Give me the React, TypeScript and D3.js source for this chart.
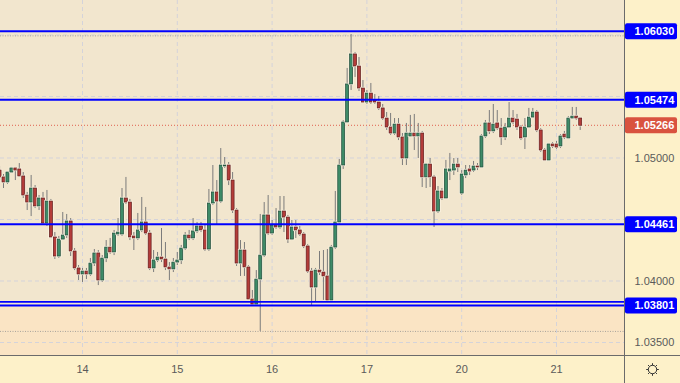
import React from 'react';
import * as d3 from 'd3';

// ---- Data (EURUSD-like hourly candles) ----
const opens = [1.04902,1.04846,1.04805,1.04886,1.04919,1.04911,1.04854,1.04699,1.04642,1.04756,1.04610,1.04675,1.04472,1.04650,1.04358,1.04203,1.04341,1.04374,1.04488,1.04244,1.04106,1.04057,1.04081,1.04057,1.04146,1.04228,1.04008,1.04187,1.04276,1.04236,1.04382,1.04382,1.04675,1.04642,1.04366,1.04350,1.04415,1.04480,1.04390,1.04106,1.04171,1.04195,1.04179,1.04114,1.04098,1.04154,1.04171,1.04268,1.04374,1.04350,1.04407,1.04447,1.04415,1.04260,1.04634,1.04724,1.04650,1.04935,1.04943,1.04821,1.04577,1.04146,1.04252,1.04114,1.03854,1.03813,1.04016,1.04211,1.04537,1.04390,1.04455,1.04439,1.04569,1.04520,1.04341,1.04439,1.04415,1.04382,1.04285,1.04081,1.03951,1.04089,1.04073,1.04041,1.03846,1.04276,1.04480,1.04943,1.05293,1.05602,1.05846,1.05748,1.05569,1.05455,1.05528,1.05472,1.05455,1.05407,1.05325,1.05252,1.05203,1.05276,1.05171,1.05000,1.05179,1.05203,1.05179,1.05203,1.04846,1.04951,1.04846,1.04569,1.04732,1.04675,1.04894,1.04902,1.04951,1.04715,1.04862,1.04911,1.04902,1.04935,1.04927,1.05179,1.05285,1.05220,1.05285,1.05244,1.05171,1.05252,1.05325,1.05317,1.05252,1.05171,1.05252,1.05333,1.05374,1.05228,1.05065,1.04984,1.05114,1.05114,1.05098,1.05195,1.05163,1.05325,1.05341,1.05325];
const highs = [1.04935,1.04870,1.04894,1.04927,1.04927,1.04959,1.04886,1.04724,1.04862,1.04780,1.04699,1.04724,1.04740,1.04667,1.04398,1.04366,1.04561,1.04545,1.04512,1.04268,1.04130,1.04106,1.04106,1.04187,1.04260,1.04252,1.04211,1.04333,1.04350,1.04415,1.04512,1.04756,1.04846,1.04667,1.04398,1.04553,1.04683,1.04602,1.04415,1.04252,1.04236,1.04431,1.04317,1.04154,1.04187,1.04236,1.04293,1.04398,1.04415,1.04512,1.04480,1.04480,1.04463,1.04748,1.04943,1.04821,1.05081,1.05008,1.04967,1.04886,1.04593,1.04333,1.04317,1.04130,1.03927,1.04089,1.04545,1.04642,1.04699,1.04496,1.04593,1.04691,1.04691,1.04537,1.04496,1.04496,1.04447,1.04398,1.04301,1.04106,1.04106,1.04244,1.04252,1.04260,1.04293,1.04732,1.04992,1.05309,1.05732,1.06008,1.05862,1.05821,1.05634,1.05553,1.05610,1.05520,1.05504,1.05439,1.05374,1.05366,1.05325,1.05325,1.05203,1.05285,1.05350,1.05358,1.05285,1.05220,1.04959,1.05000,1.04862,1.04772,1.04756,1.04984,1.05041,1.05000,1.05000,1.04902,1.04943,1.04943,1.04976,1.04959,1.05195,1.05309,1.05390,1.05439,1.05390,1.05325,1.05285,1.05455,1.05390,1.05358,1.05268,1.05325,1.05407,1.05407,1.05390,1.05244,1.05081,1.05122,1.05130,1.05138,1.05195,1.05220,1.05341,1.05415,1.05415,1.05333];
const lows = [1.04821,1.04756,1.04789,1.04878,1.04821,1.04846,1.04675,1.04577,1.04528,1.04593,1.04577,1.04463,1.04447,1.04350,1.04179,1.04187,1.04333,1.04350,1.04203,1.04089,1.04008,1.03992,1.04016,1.04041,1.04122,1.03967,1.03992,1.04154,1.04220,1.04211,1.04366,1.04366,1.04626,1.04333,1.04252,1.04333,1.04398,1.04374,1.04089,1.04073,1.04154,1.04154,1.04089,1.04008,1.04073,1.04130,1.04138,1.04252,1.04333,1.04333,1.04390,1.04398,1.04244,1.04244,1.04618,1.04463,1.04634,1.04919,1.04780,1.04553,1.04122,1.04041,1.04041,1.03846,1.03805,1.03797,1.03594,1.04195,1.04374,1.04374,1.04423,1.04423,1.04398,1.04309,1.04333,1.04350,1.04366,1.04268,1.04065,1.03805,1.03837,1.04049,1.03846,1.03829,1.03829,1.04260,1.04463,1.04911,1.05285,1.05553,1.05659,1.05545,1.05447,1.05439,1.05439,1.05439,1.05390,1.05309,1.05228,1.05187,1.05187,1.05146,1.04943,1.04943,1.05171,1.05065,1.05000,1.04764,1.04756,1.04764,1.04439,1.04553,1.04659,1.04667,1.04821,1.04862,1.04886,1.04699,1.04837,1.04862,1.04886,1.04902,1.04919,1.05163,1.05195,1.05203,1.05228,1.05106,1.05146,1.05244,1.05276,1.05228,1.05146,1.05073,1.05244,1.05325,1.05211,1.05049,1.04976,1.04976,1.05081,1.05073,1.05081,1.05154,1.05154,1.05317,1.05309,1.05228];
const closes = [1.04846,1.04805,1.04886,1.04919,1.04902,1.04854,1.04699,1.04642,1.04756,1.04610,1.04675,1.04472,1.04650,1.04358,1.04203,1.04341,1.04374,1.04488,1.04244,1.04106,1.04057,1.04081,1.04057,1.04146,1.04228,1.04008,1.04187,1.04276,1.04236,1.04390,1.04398,1.04675,1.04642,1.04358,1.04350,1.04415,1.04480,1.04390,1.04106,1.04171,1.04195,1.04179,1.04114,1.04098,1.04154,1.04171,1.04268,1.04374,1.04350,1.04407,1.04447,1.04415,1.04260,1.04634,1.04724,1.04650,1.04943,1.04943,1.04821,1.04577,1.04146,1.04252,1.04114,1.03854,1.03813,1.04016,1.04211,1.04537,1.04390,1.04455,1.04439,1.04569,1.04520,1.04341,1.04439,1.04415,1.04382,1.04285,1.04081,1.03951,1.04089,1.04073,1.04041,1.03846,1.04276,1.04480,1.04943,1.05293,1.05602,1.05846,1.05748,1.05569,1.05455,1.05528,1.05455,1.05455,1.05407,1.05325,1.05252,1.05203,1.05276,1.05171,1.05000,1.05203,1.05203,1.05179,1.05203,1.04846,1.04951,1.04846,1.04569,1.04732,1.04675,1.04911,1.04911,1.04951,1.04927,1.04870,1.04902,1.04894,1.04935,1.04927,1.05179,1.05285,1.05220,1.05276,1.05244,1.05171,1.05252,1.05325,1.05293,1.05252,1.05163,1.05252,1.05333,1.05374,1.05228,1.05065,1.04984,1.05114,1.05098,1.05089,1.05179,1.05171,1.05325,1.05341,1.05325,1.05266];

const dayLabels = ['14', '15', '16', '17', '20', '21'];
const dayStartIndex = [21, 45, 69, 93, 117, 141];
const priceTicks = [1.035, 1.04, 1.045, 1.05, 1.055, 1.06];
const levelLines = [1.0603, 1.05474, 1.04461, 1.03801];
const extraLevel = [1.0383];
const currentPrice = [1.05266];
const rangeMarks = [1.05993, 1.03590];

const W = 680;
const H = 383;
const PW = 624.5; // plot right edge
const PH = 355.5; // plot bottom edge
const FONT = '"Liberation Sans", Arial, sans-serif';

export default function App() {
  const x = d3.scaleLinear().domain([21, 141]).range([82.5, 556.5]);
  const y = d3.scaleLinear().domain([1.04, 1.05]).range([281, 158]);
  const fmt = d3.format('.5f');
  const bw = 3;

  const candles = opens.map((o, i) => {
    const c = closes[i];
    const hi = Math.max(highs[i], o, c);
    const lo = Math.min(lows[i], o, c);
    const up = c >= o;
    const cx = x(i);
    const top = y(Math.max(o, c));
    const bot = y(Math.min(o, c));
    const h = Math.max(bot - top, 1);
    return (
      <g key={i}>
        <line x1={cx} x2={cx} y1={y(hi)} y2={y(lo)} stroke="#7b7b7b" strokeWidth={1} />
        <rect x={cx - bw / 2} y={top} width={bw} height={h} fill="none" stroke="#fdf6e6" strokeWidth={2.2} />
        <rect x={cx - bw / 2} y={top} width={bw} height={h} fill={up ? '#3e8b68' : '#b43c3a'} stroke={up ? '#1f4a37' : '#5e1c1a'} strokeWidth={0.7} />
      </g>
    );
  });

  const lowZoneTop = y(levelLines[3]);
  // axis labels hidden by the level/price boxes are not drawn (as in the reference)
  const boxPrices = [...levelLines, ...currentPrice];
  const visibleTicks = priceTicks.filter((p) => boxPrices.every((b) => Math.abs(y(b) - y(p)) > 12));

  return (
    <svg width={W} height={H} style={{ position: 'absolute', left: 0, top: 0 }} fontFamily={FONT}>
      <rect x={0} y={0} width={W} height={H} fill="#fdf1c9" />
      <rect x={0} y={0} width={PW} height={PH} fill="#f2e6ce" />
      <rect x={0} y={lowZoneTop} width={PW} height={PH - lowZoneTop} fill="#fae4c4" />

      {/* grid */}
      {priceTicks.map((p) => (
        <line key={'hg' + p} x1={0} x2={PW} y1={y(p)} y2={y(p)} stroke="#d4d3da" strokeWidth={1} strokeDasharray="4,3" />
      ))}
      {dayStartIndex.map((i) => (
        <line key={'vg' + i} x1={x(i)} x2={x(i)} y1={0} y2={PH} stroke="#d4d3da" strokeWidth={1} strokeDasharray="4,3" />
      ))}

      {/* range dotted lines */}
      {rangeMarks.map((p) => (
        <line key={'rm' + p} x1={0} x2={PW} y1={y(p)} y2={y(p)} stroke="#a9a49c" strokeWidth={1} strokeDasharray="1,1.5" />
      ))}
      {/* current price dotted */}
      <line x1={0} x2={PW} y1={y(currentPrice[0])} y2={y(currentPrice[0])} stroke="#e0604e" strokeWidth={1} strokeDasharray="1,2" />

      {candles}

      {/* level lines */}
      {levelLines.map((p) => (
        <line key={'lv' + p} x1={0} x2={PW} y1={y(p)} y2={y(p)} stroke="#0000ff" strokeWidth={2} />
      ))}
      {extraLevel.map((p) => (
        <line key={'ex' + p} x1={0} x2={PW} y1={y(p)} y2={y(p)} stroke="#0000ff" strokeWidth={1.6} />
      ))}

      {/* panels dividers */}
      <line x1={PW} x2={PW} y1={0} y2={H} stroke="#6b6b6b" strokeWidth={1} />
      <line x1={0} x2={W} y1={PH} y2={PH} stroke="#6b6b6b" strokeWidth={1} />

      {/* price axis labels */}
      {visibleTicks.map((p) => (
        <text key={'pt' + p} x={634.5} y={y(p)} dy="0.35em" fontSize={11} fill="#5a5a5a">{fmt(p)}</text>
      ))}
      {levelLines.map((p) => (
        <g key={'lb' + p}>
          <rect x={PW + 0.5} y={y(p) - 8} width={52} height={16} rx={2} fill="#0000ff" />
          <text x={634.5} y={y(p)} dy="0.35em" fontSize={11} fontWeight="bold" fill="#fff">{fmt(p)}</text>
        </g>
      ))}
      <rect x={PW + 0.5} y={y(currentPrice[0]) - 8} width={52} height={16} rx={2} fill="#d9533f" />
      <text x={634.5} y={y(currentPrice[0])} dy="0.35em" fontSize={11} fontWeight="bold" fill="#fff">{fmt(currentPrice[0])}</text>

      {/* time axis labels */}
      {dayStartIndex.map((i, k) => (
        <text key={'dl' + i} x={x(i)} y={369.5} dy="0.35em" textAnchor="middle" fontSize={11} fill="#5a5a5a">{dayLabels[k]}</text>
      ))}

      {/* settings icon */}
      <g transform="translate(652.5,369.5)" stroke="#333" strokeWidth={1} fill="none">
        <circle r={4.2} />
        {d3.range(8).map((k) => {
          const a = (k * Math.PI) / 4;
          return <line key={k} x1={Math.cos(a) * 4.2} y1={Math.sin(a) * 4.2} x2={Math.cos(a) * 6.3} y2={Math.sin(a) * 6.3} />;
        })}
      </g>
    </svg>
  );
}
